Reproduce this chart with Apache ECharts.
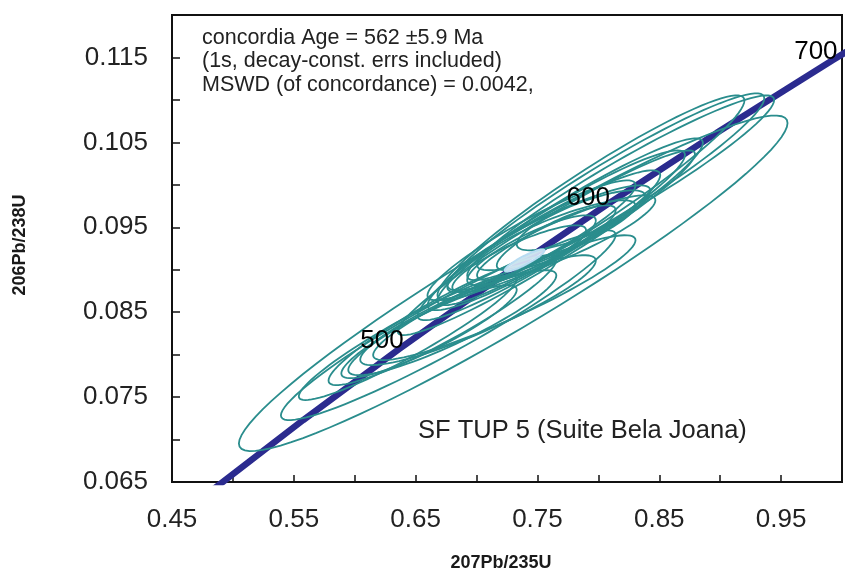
<!DOCTYPE html>
<html>
<head>
<meta charset="utf-8">
<script src="https://cdn.jsdelivr.net/npm/echarts@6/dist/echarts.min.js"></script>
<style>
  html, body { margin: 0; padding: 0; background: #fff; }
  #main { width: 845px; height: 572px; }
</style>
</head>
<body>
<div id="main"></div>
<script>
// concordia curve (age in Ma)
var concAge = [400, 450, 500, 550, 600, 650, 700, 720];
var concX = [0.4828, 0.5577, 0.6363, 0.7189, 0.8056, 0.8969, 0.9925, 1.0321];
var concY = [0.06402, 0.07230, 0.08065, 0.08907, 0.09754, 0.10609, 0.11470, 0.11817];

// ages marked with a label on the curve
var markAge = [500, 600, 700];
var markX = [0.6363, 0.8056, 0.9925];
var markY = [0.08065, 0.09754, 0.11470];

// error ellipses: centre 207Pb/235U, centre 206Pb/238U, half-widths, correlation
var ellX   = [0.7301, 0.6768, 0.6610, 0.6801, 0.7012, 0.7228, 0.8061, 0.7939, 0.8183, 0.7687, 0.7695, 0.7451, 0.7593, 0.7736, 0.7350, 0.7451, 0.7654,
              0.7573, 0.7553, 0.7654, 0.7858, 0.6720, 0.6435];
var ellY   = [0.08840, 0.08347, 0.08271, 0.08376, 0.08524, 0.08671, 0.09906, 0.09847, 0.09965, 0.09476, 0.09494, 0.09347, 0.09376, 0.09376, 0.09129, 0.09229, 0.09376,
              0.09318, 0.09347, 0.09406, 0.09582, 0.08406, 0.08200];
var ellSX  = [0.2252, 0.1374, 0.0720, 0.0854, 0.0967, 0.1077, 0.1301, 0.1260, 0.1260, 0.1171, 0.1016, 0.0854, 0.0833, 0.0732, 0.0549, 0.0528, 0.0488,
              0.1220, 0.0955, 0.0650, 0.0528, 0.0935, 0.0894];
var ellSY  = [0.01976, 0.01118, 0.00547, 0.00618, 0.00647, 0.00735, 0.01171, 0.01206, 0.01088, 0.01071, 0.00912, 0.00706, 0.00618, 0.00500, 0.00394, 0.00412, 0.00382,
              0.01088, 0.00824, 0.00412, 0.00353, 0.00765, 0.00735];
var ellRho = [0.955, 0.95, 0.90, 0.90, 0.90, 0.92, 0.95, 0.95, 0.95, 0.95, 0.94, 0.92, 0.90, 0.88, 0.85, 0.85, 0.85,
              0.96, 0.93, 0.85, 0.80, 0.93, 0.94];

// concordia age ellipse (562 Ma)
var concEll = [0.7394, 0.09109, 0.0163, 0.0013, 0.90];

var textLines = ['concordia Age = 562 \u00b15.9 Ma', '(1s, decay-const. errs included)', 'MSWD (of concordance) = 0.0042,'];

;(function () {
  var myChart = echarts.init(document.getElementById('main'));
  var font = 'Liberation Sans, Arial, sans-serif';

  var ellData = [];
  for (var i = 0; i < ellX.length; i++) {
    ellData.push([ellX[i], ellY[i], ellSX[i], ellSY[i], ellRho[i]]);
  }

  // outline of an error ellipse, put on the axes through api.coord
  function ellipseItem(stroke, fill, lw) {
    return function (params, api) {
      var cx = api.value(0), cy = api.value(1), sx = api.value(2), sy = api.value(3), r = api.value(4);
      var q = Math.sqrt(1 - r * r);
      var pts = [];
      for (var k = 0; k < 90; k++) {
        var t = k / 90 * Math.PI * 2;
        pts.push(api.coord([cx + sx * Math.cos(t), cy + sy * (r * Math.cos(t) + q * Math.sin(t))]));
      }
      return {
        type: 'polygon',
        shape: { points: pts },
        style: { fill: fill, stroke: stroke, lineWidth: lw }
      };
    };
  }

  var concData = [];
  for (var j = 0; j < concAge.length; j++) concData.push([concX[j], concY[j]]);
  var markData = [];
  for (var m = 0; m < markAge.length; m++) markData.push({ value: [markX[m], markY[m]], name: String(markAge[m]) });

  var option = {
    animation: false,
    backgroundColor: '#ffffff',
    grid: {
      left: 172, top: 15, width: 677, height: 467,
      show: true, borderColor: '#111', borderWidth: 2
    },
    xAxis: {
      type: 'value', min: 0.45, max: 1.0, interval: 0.05,
      axisLine: { show: true, onZero: false, lineStyle: { color: '#111', width: 2 } },
      axisTick: { show: true, inside: true, length: 7, lineStyle: { color: '#111', width: 1.5 } },
      splitLine: { show: false },
      axisLabel: {
        margin: 25, fontSize: 26, color: '#222', fontFamily: font,
        formatter: function (v) { return Math.round(v * 100) % 10 === 5 ? v.toFixed(2) : ''; }
      }
    },
    yAxis: {
      type: 'value', min: 0.065, max: 0.12, interval: 0.005,
      axisLine: { show: true, onZero: false, lineStyle: { color: '#111', width: 2 } },
      axisTick: { show: true, inside: true, length: 8, lineStyle: { color: '#111', width: 1.5 } },
      splitLine: { show: false },
      axisLabel: {
        margin: 24, fontSize: 26, color: '#222', fontFamily: font,
        formatter: function (v) { return Math.round(v * 1000) % 10 === 5 ? v.toFixed(3) : ''; }
      }
    },
    graphic: [
      { type: 'text', left: 202, top: 26, style: { text: textLines.join('\n'), font: '21.5px ' + font, fill: '#222', lineHeight: 23.5 } },
      { type: 'text', left: 418, top: 418, style: { text: 'SF TUP 5 (Suite Bela Joana)', font: '25.5px ' + font, fill: '#222' } },
      { type: 'text', x: 20, y: 245, rotation: Math.PI / 2, style: { text: '206Pb/238U', font: 'bold 18px ' + font, fill: '#1a1a1a', align: 'center', verticalAlign: 'middle' } },
      { type: 'text', x: 501, y: 563, style: { text: '207Pb/235U', font: 'bold 18px ' + font, fill: '#1a1a1a', align: 'center', verticalAlign: 'middle' } }
    ],
    series: [
      {
        name: 'concordia', type: 'line', data: concData, showSymbol: false, clip: true, z: 2,
        lineStyle: { color: '#2b2b8f', width: 6.5 }
      },
      {
        name: 'ellipses', type: 'custom', data: ellData, z: 3,
        encode: { x: 0, y: 1 },
        renderItem: ellipseItem('#2a8d8d', 'none', 1.8)
      },
      {
        name: 'concordia age', type: 'custom', data: [concEll], z: 4,
        encode: { x: 0, y: 1 },
        renderItem: ellipseItem('#b8dcf2', 'rgba(232,244,255,0.85)', 2)
      },
      {
        name: 'ages', type: 'scatter', data: markData, symbolSize: 0, z: 5,
        itemStyle: { opacity: 1 },
        label: {
          show: true, position: 'inside', offset: [-17, -8], formatter: '{b}',
          fontSize: 26, color: '#000', fontFamily: font, textBorderWidth: 0, opacity: 1
        }
      }
    ]
  };

  myChart.setOption(option);
})();
</script>
</body>
</html>
